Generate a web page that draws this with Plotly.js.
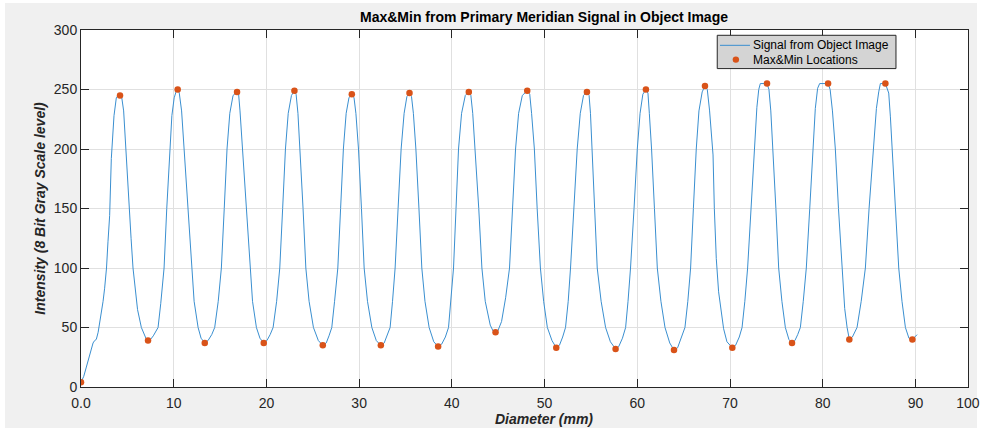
<!DOCTYPE html>
<html>
<head>
<meta charset="utf-8">
<script src="https://cdn.plot.ly/plotly-3.0.1.min.js"></script>
<style>
  html, body { margin: 0; padding: 0; background: #ffffff; }
  #chart { position: absolute; left: 5px; top: 3px; width: 972px; height: 425px; overflow: visible; }
  #chart .main-svg, #chart .svg-container { overflow: visible !important; }
</style>
</head>
<body>
<div id="chart"></div>
<script>
// Signal from Object Image (Diameter mm, Intensity)
const sigX = [
  0,0.3,0.55,0.76,0.95,1.11,1.3,1.47,1.65,1.85,2.01,2.19,2.38,2.55,2.75,2.91,3.09,3.27,3.4,3.56,3.81,4.0,4.21,
  4.4,4.6,4.82,5.0,5.2,5.4,5.61,5.85,6.1,6.51,6.8,7.0,7.23,
  7.5,7.8,8.1,8.31,8.6,8.96,9.25,9.57,9.8,10.05,10.25,10.43,
  10.6,10.85,11.11,11.5,11.9,12.2,12.63,12.95,13.35,
  13.7,14.1,14.42,14.8,15.14,15.45,15.75,16.05,16.4,16.83,
  17.0,17.15,17.41,17.8,18.2,18.5,18.92,19.3,19.71,
  20.05,20.4,20.72,21.1,21.44,21.75,22.05,22.35,22.7,23.02,
  23.2,23.4,23.63,23.95,24.25,24.6,25.07,25.6,26.08,
  26.45,26.75,27.05,27.35,27.7,28.0,28.3,28.6,28.9,29.21,
  29.45,29.65,29.93,30.25,30.54,30.9,31.37,31.85,32.34,
  32.7,33.0,33.34,33.6,33.88,34.2,34.53,34.85,35.15,35.43,
  35.65,35.85,36.12,36.45,36.76,37.1,37.55,38.05,38.52,
  38.9,39.3,39.64,39.9,40.18,40.45,40.72,41.05,41.45,41.83,
  42.05,42.25,42.52,42.9,43.24,43.6,44.14,44.45,44.71,
  44.95,45.36,45.8,46.22,46.55,46.87,47.2,47.6,48.13,
  48.4,48.6,48.9,49.2,49.55,49.9,50.3,50.8,51.26,
  51.6,51.95,52.26,52.55,52.8,53.15,53.52,53.85,54.2,54.57,
  54.8,54.95,55.14,55.4,55.68,56.1,56.58,57.1,57.66,
  58.0,58.4,58.74,59.0,59.27,59.65,60.0,60.3,60.6,60.93,
  61.15,61.3,61.54,61.85,62.16,62.55,62.99,63.5,63.96,
  64.35,64.75,65.14,65.45,65.75,66.05,66.36,66.65,67.0,67.3,
  67.55,67.8,68.17,68.31,68.52,68.77,69.03,69.31,69.67,70.25,
  70.6,71.0,71.3,71.6,71.9,72.25,72.62,72.9,73.1,73.27,73.99,
  74.2,74.4,74.64,74.95,75.25,75.6,75.97,76.35,76.69,
  77.0,77.3,77.59,77.9,78.23,78.6,78.96,79.2,79.45,79.67,80.58,
  80.8,81.05,81.36,81.7,82.09,82.37,82.63,82.87,
  83.2,83.7,84.15,84.6,85.0,85.43,85.79,86.04,86.22,86.76,
  87.12,87.3,87.48,87.85,88.2,88.55,88.92,89.3,89.67,90.18
];
const sigY = [
  4,9,16,22,28,32,37,39,40,46,53,63,72,83,100,122,144,192,212,228,243,245,245,
  243,232,200,175,150,125,100,80,65,50,44,41,39,
  40,43,47,50,70,100,150,200,228,243,248,250,
  247,232,200,150,100,72,50,41,37,
  39,44,50,72,100,150,200,230,245,248,
  246,232,200,150,100,72,50,41,37,
  39,44,50,72,100,150,200,230,245,249,
  246,230,200,150,100,72,50,39,35,
  37,43,50,72,100,150,200,230,243,246,
  243,230,200,150,100,72,50,39,35,
  37,43,50,72,100,150,200,230,244,247,
  244,230,200,150,100,72,50,38,34,
  36,42,50,72,100,150,200,230,245,248,
  245,230,200,150,100,72,52,47,46,
  47,55,75,100,150,200,230,245,249,
  246,230,200,150,100,72,50,39,33,
  35,42,50,72,100,150,200,230,245,248,
  245,230,200,150,100,72,50,38,32,
  34,41,50,72,100,150,200,230,246,250,
  247,230,200,150,100,72,50,37,31,
  33,41,50,72,100,150,200,232,248,253,
  250,232,195,150,108,80,66,49,38,33,
  35,42,50,72,100,150,200,235,250,255,255,
  250,232,200,150,100,72,50,40,37,
  39,44,50,72,100,150,200,234,251,255,255,
  250,232,200,150,100,66,50,40,
  42,50,72,100,150,200,234,248,255,255,
  247,227,200,150,100,72,50,41,40,44
];

// Max&Min Locations
const extX = [0,4.21,7.23,10.43,13.35,16.83,19.71,23.02,26.08,29.21,32.34,35.43,38.52,41.83,44.71,
              48.13,51.26,54.57,57.66,60.93,63.96,67.3,70.25,73.99,76.69,80.58,82.87,86.76,89.67];
const extY = [4,245,39,250,37,248,37,249,35,246,35,247,34,248,46,
              249,33,248,32,250,31,253,33,255,37,255,40,255,40];

// Axis ticks
const xTickVals = [0,10,20,30,40,50,60,70,80,90,95.66];
const xTickText = ["0.0","10","20","30","40","50","60","70","80","90","100"];
const yTickVals = [0,50,100,150,200,250,300];

// Legend labels
const seriesNames = ['Signal from Object Image', 'Max&Min Locations'];

const axisColor = '#262626';
const gridColor = '#e0e0e0';
const lineColor = '#3a8fd0';
const dotColor = '#D95319';
const fontFam = '"Liberation Sans", Arial, Helvetica, sans-serif';

const traces = [
  {
    x: sigX, y: sigY, type: 'scatter', mode: 'lines',
    name: seriesNames[0], showlegend: false,
    line: { color: lineColor, width: 1 }
  },
  {
    x: extX, y: extY, type: 'scatter', mode: 'markers',
    name: seriesNames[1], showlegend: false,
    marker: { color: dotColor, size: 6.5 }
  }
];

// Legend box (paper coordinates of the plot area)
const lgX0 = 0.7173, lgX1 = 0.9188, lgY0 = 0.8919, lgY1 = 0.9852;
const row1 = 0.9571, row2 = 0.9171;

const layout = {
  width: 972, height: 425,
  margin: { l: 76, r: 9, t: 27, b: 41 },
  paper_bgcolor: '#f0f0f0',
  plot_bgcolor: '#ffffff',
  font: { family: fontFam, size: 14, color: axisColor },
  title: {
    text: '<b>Max&Min from Primary Meridian Signal in Object Image</b>',
    font: { family: fontFam, size: 14, color: '#000000' },
    xref: 'paper', x: 0.522, xanchor: 'center',
    yref: 'container', y: 0.967, yanchor: 'middle'
  },
  xaxis: {
    range: [0, 95.67],
    tickmode: 'array', tickvals: xTickVals, ticktext: xTickText,
    ticks: 'inside', ticklen: 8, tickcolor: axisColor, tickwidth: 1,
    ticklabelstandoff: 3, ticklabeloverflow: 'allow',
    showline: true, linecolor: axisColor, linewidth: 1, mirror: 'ticks',
    showgrid: true, gridcolor: gridColor, gridwidth: 1,
    zeroline: false,
    tickfont: { family: fontFam, size: 14, color: axisColor }
  },
  yaxis: {
    range: [0, 300],
    tickmode: 'array', tickvals: yTickVals,
    ticks: 'inside', ticklen: 8, tickcolor: axisColor, tickwidth: 1,
    showline: true, linecolor: axisColor, linewidth: 1, mirror: 'ticks',
    showgrid: true, gridcolor: gridColor, gridwidth: 1,
    zeroline: false,
    tickfont: { family: fontFam, size: 14, color: axisColor },
    title: {
      text: '<b><i>Intensity (8 Bit Gray Scale level)</i></b>',
      font: { family: fontFam, size: 14, color: axisColor },
      standoff: 4
    }
  },
  showlegend: false,
  shapes: [
    { type: 'rect', xref: 'paper', yref: 'paper', x0: lgX0, x1: lgX1, y0: lgY0, y1: lgY1,
      fillcolor: '#d4d4d4', line: { color: axisColor, width: 1 }, layer: 'above' },
    { type: 'line', xref: 'paper', yref: 'paper', x0: 0.7204, x1: 0.7542, y0: row1, y1: row1,
      line: { color: lineColor, width: 1 }, layer: 'above' },
    { type: 'circle', xref: 'paper', yref: 'paper', xsizemode: 'pixel', ysizemode: 'pixel',
      xanchor: 0.7383, yanchor: row2, x0: -3.2, x1: 3.2, y0: -3.2, y1: 3.2,
      fillcolor: dotColor, line: { color: dotColor, width: 0 }, layer: 'above' }
  ],
  annotations: [
    {
      text: '<b><i>Diameter (mm)</i></b>',
      xref: 'paper', yref: 'paper', x: 0.522, y: -0.09,
      xanchor: 'center', yanchor: 'middle', showarrow: false, borderpad: 0,
      font: { family: fontFam, size: 14, color: axisColor }
    },
    {
      text: seriesNames[0], xref: 'paper', yref: 'paper', x: 0.7561, y: row1,
      xanchor: 'left', yanchor: 'middle', showarrow: false, borderpad: 0,
      font: { family: fontFam, size: 12, color: '#000000' }
    },
    {
      text: seriesNames[1], xref: 'paper', yref: 'paper', x: 0.7561, y: row2,
      xanchor: 'left', yanchor: 'middle', showarrow: false, borderpad: 0,
      font: { family: fontFam, size: 12, color: '#000000' }
    }
  ]
};

Plotly.newPlot('chart', traces, layout, { displayModeBar: false, staticPlot: true });
</script>
</body>
</html>
